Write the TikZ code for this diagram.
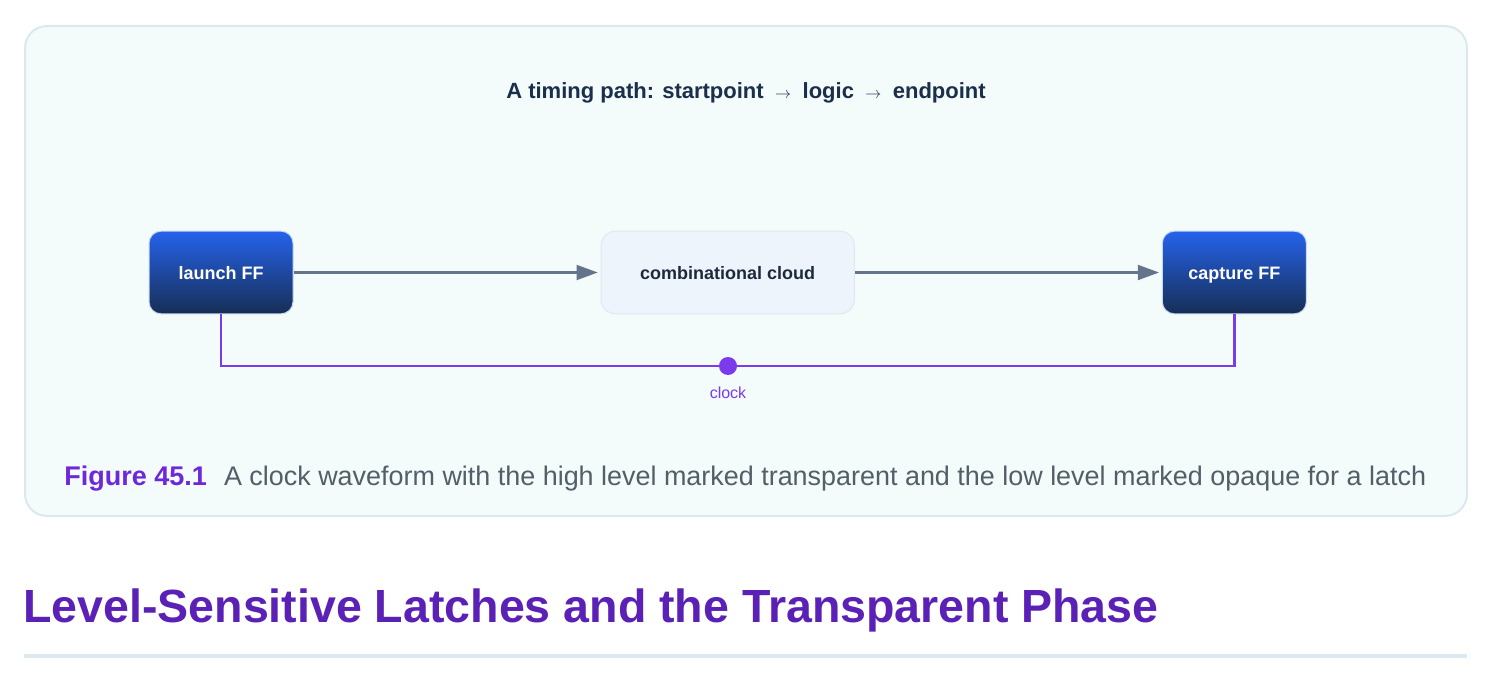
\documentclass[tikz,border=0pt]{standalone}
\usepackage{fontspec}
\setmainfont{Liberation Sans}
\usetikzlibrary{positioning, arrows.meta}
\definecolor{panelfill}{HTML}{F3FBFB}
\definecolor{paneledge}{HTML}{DBE9EF}
\definecolor{titlecol}{HTML}{1B2E4B}
\definecolor{wirecol}{HTML}{64748B}
\definecolor{fftop}{HTML}{2563EB}
\definecolor{ffbot}{HTML}{172E55}
\definecolor{ffedge}{HTML}{C9D8F2}
\definecolor{cloudfill}{HTML}{EEF4FC}
\definecolor{cloudedge}{HTML}{E2E8F0}
\definecolor{cloudtext}{HTML}{1E293B}
\definecolor{clkcol}{HTML}{7C3AED}
\definecolor{fignocol}{HTML}{6D28D9}
\definecolor{captcol}{HTML}{525F69}
\definecolor{headcol}{HTML}{5B21B6}
\definecolor{rulecol}{HTML}{DBEAF0}
\newcommand{\smallarrow}{\hspace{4pt}{\fontsize{12}{14}\selectfont$\rightarrow$}\hspace{4pt}}
\tikzset{
    %Define standard arrow tip
    >={Triangle[length=16pt, width=11pt]},
    %Define style for flip-flops
    ffbox/.style={
           rectangle,
           rounded corners=9pt,
           draw=ffedge, line width=0.75pt,
           top color=fftop, bottom color=ffbot,
           text=white,
           font=\bfseries\fontsize{13.5}{16}\selectfont,
           text height=12pt, text depth=1pt,
           minimum width=108pt,
           minimum height=62pt,
           inner sep=0pt},
    %Define style for the logic box
    cloudbox/.style={
           rectangle,
           rounded corners=11pt,
           draw=cloudedge, line width=0.75pt,
           fill=cloudfill,
           text=cloudtext,
           font=\bfseries\fontsize{13.5}{16}\selectfont,
           text height=12pt, text depth=1pt,
           minimum width=190pt,
           minimum height=62pt,
           inner sep=0pt},
    % Define arrow style
    pil/.style={
           ->,
           draw=wirecol,
           line width=2.25pt,
           shorten >=2pt},
    % clock net
    clkwire/.style={
           draw=clkcol,
           line width=2pt},
    clkdot/.style={
           circle, fill=clkcol,
           minimum size=13.5pt, inner sep=0pt},
    clklabel/.style={
           text=clkcol,
           font=\fontsize{12}{14}\selectfont},
    % texts
    titletext/.style={
           text=titlecol, inner sep=0pt,
           font=\bfseries\fontsize{16.5}{20}\selectfont},
    fignotext/.style={
           text=fignocol, inner sep=0pt,
           font=\bfseries\fontsize{20.25}{24}\selectfont},
    captext/.style={
           text=captcol, inner sep=0pt,
           font=\fontsize{20.2}{24}\selectfont},
    headtext/.style={
           text=headcol, inner sep=0pt,
           font=\bfseries\fontsize{34.9}{40}\selectfont}
}

\begin{document}
\begin{tikzpicture}[x=0.75pt, y=-0.75pt, node distance=230.25pt]
	\useasboundingbox (0,0) rectangle (1494,684);
	%
	% panel
	%
	\draw[fill=panelfill, draw=paneledge, line width=1.5pt, rounded corners=16.5pt] (25,26) rectangle (1467,516);
	\node[titletext, anchor=base] (ttl) at (746,99) {A timing path: startpoint \smallarrow{} logic \smallarrow{} endpoint};
	%
	% nodes
	%
	\node[ffbox] (launch) at (221,272.5) {launch FF};
	\node[cloudbox, right = of launch] (cloud) {combinational cloud};
	\node[ffbox, right = of cloud] (capture) {capture FF};
	\node[clkdot] (clk) at (728,366) {};
	\node[clklabel] (clklbl) at (728,393) {clock};
	%
	% links
	%
	\draw[pil] (launch) -- (cloud);
	\draw[pil] (cloud) -- (capture);
	\draw[clkwire] (launch.south) |- (clk) -| (capture.south);
	%
	% caption and heading
	%
	\node[fignotext, anchor=base west] (figno) at (64,485) {Figure 45.1};
	\node[captext, anchor=base west] (figtext) at ([xshift=12.5pt]figno.base east) {A clock waveform with the high level marked transparent and the low level marked opaque for a latch};
	\node[headtext, anchor=base west] (sect) at (23,622) {Level-Sensitive Latches and the Transparent Phase};
	\fill[rulecol] (24,654) rectangle (1467,658);
\end{tikzpicture}
\end{document}
